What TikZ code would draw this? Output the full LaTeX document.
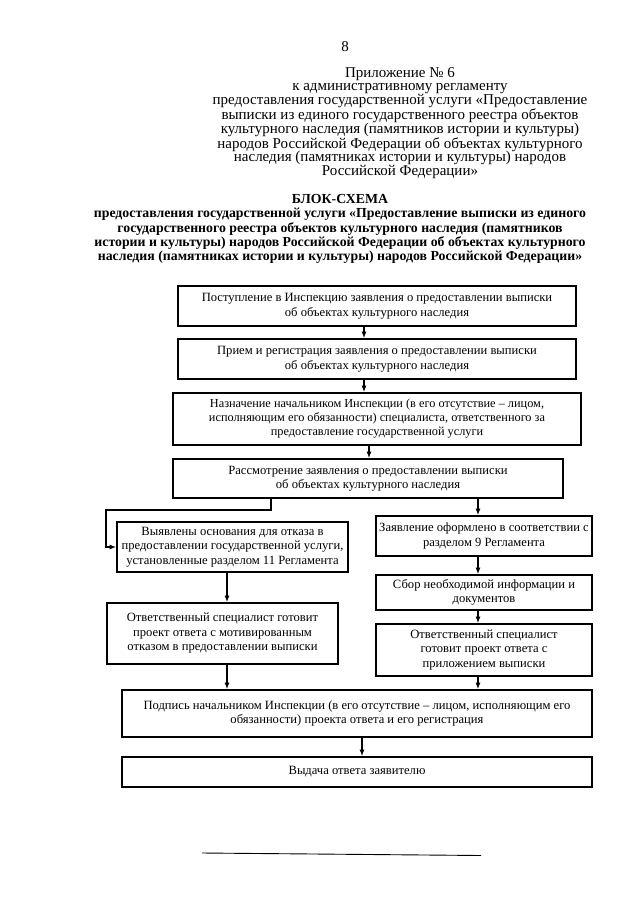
\documentclass[tikz,border=0pt]{standalone}
\usepackage{fontspec}
\setmainfont{Liberation Serif}
\usetikzlibrary{arrows.meta}
\begin{document}
\begin{tikzpicture}[x=1pt,y=-1pt,
  box/.style={draw, line width=1.6pt, align=center, inner sep=1pt,
    font=\fontsize{12.6}{14.5}\selectfont},
  smallbox/.style={box, font=\fontsize{12.3}{14}\selectfont},
  arr/.style={line width=1.3pt, -{Latex[length=6.5pt,width=5pt]}},
  head/.style={inner sep=0pt, align=center, font=\fontsize{15}{13.7}\selectfont},
  titl/.style={inner sep=0pt, align=center, font=\fontsize{13.8}{14.2}\selectfont\bfseries},
  rule/.style={line width=0.9pt}]
\useasboundingbox (0,0) rectangle (640,905);
\fill[white] (0,0) rectangle (640,905);

% header texts
\node[head] (pg) at (345,47) {8};
\node[head] (app) at (400,123) {Приложение № 6\\
к административному регламенту\\
предоставления государственной услуги «Предоставление\\
выписки из единого государственного реестра объектов\\
культурного наследия (памятников истории и культуры)\\
народов Российской Федерации об объектах культурного\\
наследия (памятниках истории и культуры) народов\\
Российской Федерации»};
\node[titl] (ttl) at (340,229) {БЛОК-СХЕМА\\
предоставления государственной услуги «Предоставление выписки из единого\\
государственного реестра объектов культурного наследия (памятников\\
истории и культуры) народов Российской Федерации об объектах культурного\\
наследия (памятниках истории и культуры) народов Российской Федерации»};

% boxes
\node[box, minimum width=398, minimum height=40] (b1) at (377,306)
  {Поступление в Инспекцию заявления о предоставлении выписки\\ об объектах культурного наследия};
\node[box, minimum width=398, minimum height=40] (b2) at (377,359)
  {Прием и регистрация заявления о предоставлении выписки\\ об объектах культурного наследия};
\node[smallbox, minimum width=408, minimum height=52] (b3) at (377,419)
  {Назначение начальником Инспекции (в его отсутствие – лицом,\\ исполняющим его обязанности) специалиста, ответственного за\\ предоставление государственной услуги};
\node[box, minimum width=390, minimum height=39] (b4) at (368,478.5)
  {Рассмотрение заявления о предоставлении выписки\\ об объектах культурного наследия};
\node[box, minimum width=231, minimum height=50] (b5) at (232.5,547)
  {Выявлены основания для отказа в\\ предоставлении государственной услуги,\\ установленные разделом 11 Регламента};
\node[box, minimum width=216, minimum height=40] (b6) at (484,536)
  {Заявление оформлено в соответствии с\\ разделом 9 Регламента};
\node[box, minimum width=216, minimum height=35] (b7) at (484,592.5)
  {Сбор необходимой информации и\\ документов};
\node[box, minimum width=231, minimum height=61] (b8) at (222.5,633.5)
  {Ответственный специалист готовит\\ проект ответа с мотивированным\\ отказом в предоставлении выписки};
\node[box, minimum width=216, minimum height=52] (b9) at (484,650)
  {Ответственный специалист\\ готовит проект ответа с\\ приложением выписки};
\node[box, minimum width=470, minimum height=47] (b10) at (357,713.5)
  {Подпись начальником Инспекции (в его отсутствие – лицом, исполняющим его\\ обязанности) проекта ответа и его регистрация};
\node[box, minimum width=470, minimum height=30] (b11) at (357,772)
  {Выдача ответа заявителю};

% connector x positions
\coordinate (xa) at (364,0);
\coordinate (xb) at (369,0);
\coordinate (xl) at (271,0);
\coordinate (xr) at (478,0);
\coordinate (xm) at (227,0);
\coordinate (xe) at (362,0);
\coordinate (jl) at (106,510);

\draw[arr] (b1.south -| xa) -- (b2.north -| xa);
\draw[arr] (b2.south -| xa) -- (b3.north -| xa);
\draw[arr] (b3.south -| xb) -- (b4.north -| xb);
\draw[arr] (b4.south -| xl) |- (jl) |- (b5.west);
\draw[arr] (b4.south -| xr) -- (b6.north -| xr);
\draw[arr] (b6.south -| xr) -- (b7.north -| xr);
\draw[arr] (b7.south -| xr) -- (b9.north -| xr);
\draw[arr] (b5.south -| xm) -- (b8.north -| xm);
\draw[arr] (b8.south -| xm) -- (b10.north -| xm);
\draw[arr] (b9.south -| xr) -- (b10.north -| xr);
\draw[arr] (b10.south -| xe) -- (b11.north -| xe);

% signature rule at the foot
\coordinate (r1) at (202,853);
\coordinate (r2) at (481,855.5);
\draw[rule] (r1) -- (r2);
\end{tikzpicture}
\end{document}
